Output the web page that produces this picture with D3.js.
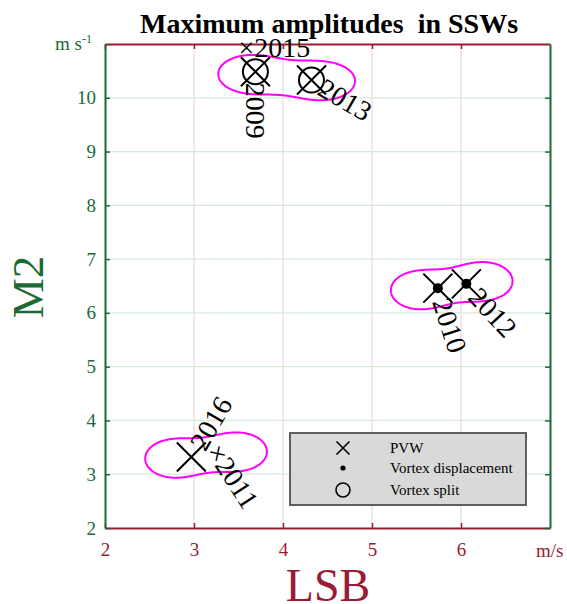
<!DOCTYPE html>
<html>
<head>
<meta charset="utf-8">
<script src="https://cdn.jsdelivr.net/npm/d3@7"></script>
<style>
  body { margin: 0; background: #fff; }
  text { font-family: "Liberation Serif", "Times New Roman", serif; }
</style>
</head>
<body>
<div id="chart"></div>
<script>
// events: LSB and M2 maximum amplitudes
const years = ["2009", "2013", "2015", "2010", "2012", "2016", "2011"];
const lsb = [3.69, 4.32, 3.59, 5.74, 6.06, 2.97, 3.27];
const m2 = [10.485, 10.33, 10.95, 6.46, 6.54, 3.32, 3.39];
const labels = ["2009", "2013", "\u00d72015", "2010", "2012", "2016", "\u00d72011"];
const labelAngle = [90, 30, 0, 72, 47, -60, 57];
const isPVW = [true, true, false, true, true, true, false];
const isDisplacement = [false, false, false, true, true, false, false];
const isSplit = [true, true, false, false, false, false, false];

// magenta contour lobes (two per cluster)
const lobeX = [3.62, 4.45, 5.52, 6.26, 2.76, 3.50];
const lobeY = [10.45, 10.32, 6.43, 6.60, 3.30, 3.43];
const lobeSpreadX = [0.348, 0.348, 0.309, 0.309, 0.309, 0.309];
const lobeSpreadY = 0.34;
const contourLevel = 0.6;

const xTicks = [2, 3, 4, 5, 6];
const yTicks = [2, 3, 4, 5, 6, 7, 8, 9, 10];
const legendItems = ["PVW", "Vortex displacement", "Vortex split"];

const redC = "#9a1b33";
const greenC = "#1c6b34";
const serif = '"Liberation Serif", "Times New Roman", serif';

const w = 567, h = 604;
const margin = { top: 44, right: 17, bottom: 76, left: 105 };
const innerWidth = w - margin.left - margin.right;
const innerHeight = h - margin.top - margin.bottom;

const svg = d3.select("#chart").append("svg")
    .attr("width", w)
    .attr("height", h);

svg.append("text")
    .attr("x", 329).attr("y", 33)
    .attr("text-anchor", "middle")
    .style("font-size", "28px")
    .style("font-weight", "bold")
    .style("white-space", "pre")
    .text("Maximum amplitudes  in SSWs");

const xScale = d3.scaleLinear().domain([2, 7]).range([0, innerWidth]);
const yScale = d3.scaleLinear().domain([2, 11]).range([innerHeight, 0]);

const g = svg.append("g")
    .attr("transform", `translate(${margin.left},${margin.top})`);

// grid
g.selectAll(".vgrid").data(xTicks.slice(1))
    .enter().append("line")
    .attr("x1", d => xScale(d)).attr("x2", d => xScale(d))
    .attr("y1", 0).attr("y2", innerHeight)
    .attr("stroke", "#efd5dc").attr("stroke-width", 1.2);
g.selectAll(".hgrid").data(yTicks.slice(1))
    .enter().append("line")
    .attr("x1", 0).attr("x2", innerWidth)
    .attr("y1", d => yScale(d)).attr("y2", d => yScale(d))
    .attr("stroke", "#d8e9d8").attr("stroke-width", 1.2);

// axes
function styleAxis(sel, color) {
    sel.attr("font-family", serif).attr("font-size", 19);
    sel.select(".domain").attr("stroke", color).attr("stroke-width", 2);
    sel.selectAll(".tick line").attr("stroke", color).attr("stroke-width", 1.5);
    sel.selectAll(".tick text").attr("fill", color)
        .style("font-family", serif)
        .style("font-size", "19px");
}

const fmt = d3.format("d");

const xAxisG = g.append("g")
    .attr("transform", `translate(0,${innerHeight})`)
    .call(d3.axisBottom(xScale).tickValues(xTicks).tickFormat(fmt)
        .tickSizeInner(-5).tickSizeOuter(0).tickPadding(15));
styleAxis(xAxisG, redC);

const xTopG = g.append("g")
    .call(d3.axisTop(xScale).tickValues(xTicks).tickSizeInner(-5).tickSizeOuter(0).tickFormat(""));
styleAxis(xTopG, redC);

const yAxisG = g.append("g")
    .call(d3.axisLeft(yScale).tickValues(yTicks).tickFormat(fmt)
        .tickSizeInner(-5).tickSizeOuter(0).tickPadding(9));
styleAxis(yAxisG, greenC);

const yRightG = g.append("g")
    .attr("transform", `translate(${innerWidth},0)`)
    .call(d3.axisRight(yScale).tickValues(yTicks).tickSizeInner(-5).tickSizeOuter(0).tickFormat(""));
styleAxis(yRightG, greenC);

// units and axis titles
const unitY = svg.append("text")
    .attr("x", 55).attr("y", 50)
    .attr("fill", greenC)
    .style("font-size", "19px");
unitY.append("tspan").text("m s");
unitY.append("tspan").attr("dy", -7).style("font-size", "12px").text("-1");

svg.append("text")
    .attr("x", 536).attr("y", 557)
    .attr("fill", redC)
    .style("font-size", "19px")
    .text("m/s");

svg.append("text")
    .attr("transform", "translate(43,287) rotate(-90)")
    .attr("text-anchor", "middle")
    .attr("fill", greenC)
    .style("font-size", "45px")
    .text("M2");

svg.append("text")
    .attr("x", 328).attr("y", 601)
    .attr("text-anchor", "middle")
    .attr("fill", redC)
    .style("font-size", "46px")
    .text("LSB");

// magenta contours from lobe density
const syPx = yScale(2) - yScale(2 + lobeSpreadY);
const gw = Math.round(innerWidth), gh = Math.round(innerHeight);
const field = new Float64Array(gw * gh);
const lobes = lobeX.map((lx, i) => [xScale(lx), yScale(lobeY[i]), xScale(2 + lobeSpreadX[i]) - xScale(2)]);
for (let j = 0; j < gh; j++) {
    for (let i = 0; i < gw; i++) {
        let s = 0;
        for (const [cx, cy, sx] of lobes) {
            const dx = (i - cx) / sx, dy = (j - cy) / syPx;
            s += Math.exp(-0.5 * (dx * dx + dy * dy));
        }
        field[j * gw + i] = s;
    }
}
const contours = d3.contours().size([gw, gh]).thresholds([contourLevel])(field);
g.append("path")
    .attr("d", d3.geoPath()(contours[0]))
    .attr("fill", "none")
    .attr("stroke", "#ff00ff")
    .attr("stroke-width", 2);

// markers
const points = years.map((y, i) => ({
    year: y, x: lsb[i], y: m2[i], label: labels[i], angle: labelAngle[i],
    pvw: isPVW[i], disp: isDisplacement[i], split: isSplit[i]
}));

const xPath = s => `M${-s},${-s}L${s},${s}M${-s},${s}L${s},${-s}`;

const pg = g.selectAll(".pt").data(points).enter().append("g")
    .attr("transform", d => `translate(${xScale(d.x)},${yScale(d.y)})`);

pg.filter(d => d.split).append("circle")
    .attr("r", 12.5).attr("fill", "none")
    .attr("stroke", "#000").attr("stroke-width", 2);
pg.filter(d => d.pvw).append("path")
    .attr("d", xPath(14.5)).attr("stroke", "#000").attr("stroke-width", 2);
pg.filter(d => d.disp).append("circle")
    .attr("r", 5).attr("fill", "#000");

pg.append("text")
    .attr("transform", d => `rotate(${d.angle})`)
    .attr("x", d => d.label.startsWith("\u00d7") ? -8 : 11)
    .attr("dy", "0.35em")
    .style("font-size", "28px")
    .text(d => d.label);

// legend
const lg = svg.append("g").attr("transform", "translate(290,433)");
lg.append("rect")
    .attr("width", 236).attr("height", 72)
    .attr("fill", "#d9d9d9").attr("stroke", "#505050").attr("stroke-width", 1.8);
const rowY = [15, 35, 57];
lg.append("path").attr("d", xPath(6.5)).attr("transform", `translate(53,${rowY[0]})`)
    .attr("stroke", "#000").attr("stroke-width", 1.6);
lg.append("circle").attr("cx", 53).attr("cy", rowY[1]).attr("r", 2.6).attr("fill", "#000");
lg.append("circle").attr("cx", 53).attr("cy", rowY[2]).attr("r", 7)
    .attr("fill", "none").attr("stroke", "#000").attr("stroke-width", 1.6);
lg.selectAll(".lt").data(legendItems).enter().append("text")
    .attr("x", 100).attr("y", (d, i) => rowY[i])
    .attr("dy", "0.33em")
    .style("font-size", "15px")
    .text(d => d);
</script>
</body>
</html>
